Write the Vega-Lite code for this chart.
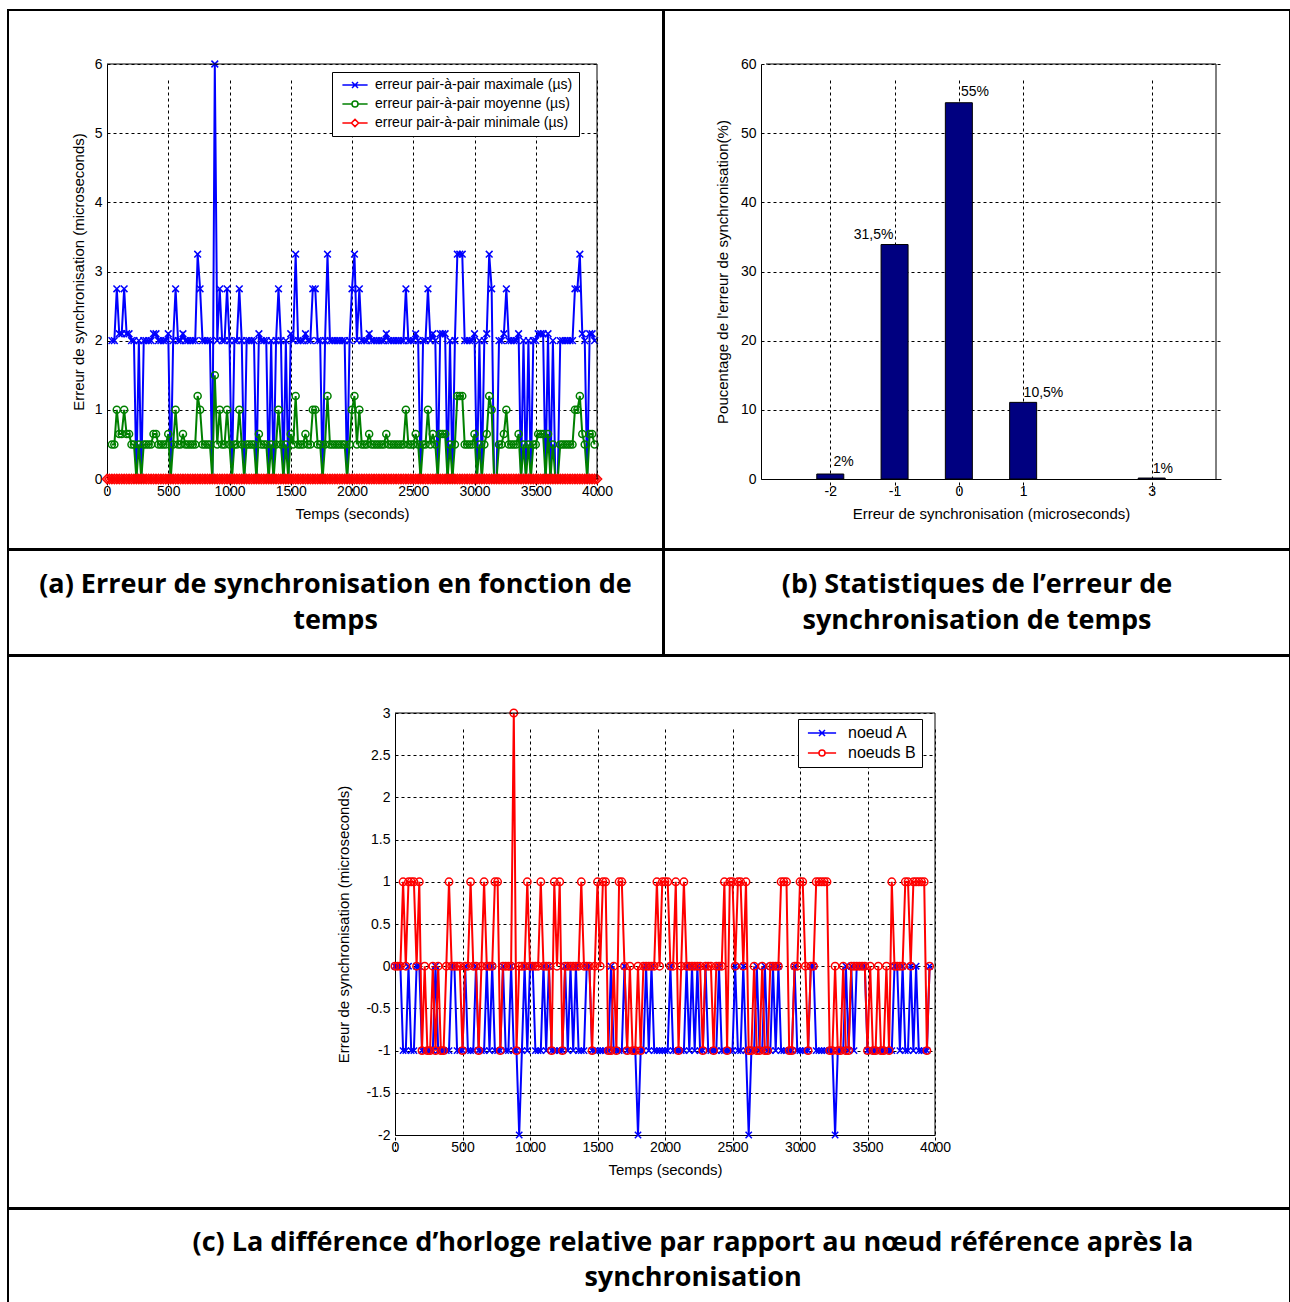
{
"$schema":"https://vega.github.io/schema/vega-lite/v6.json",
"background":"white",
"padding":{"left":7,"top":9,"right":0,"bottom":0},
"spacing":-2,
"resolve":{"scale":{"color":"independent","shape":"independent"},"legend":{"color":"independent","shape":"independent"}},
"config":{
 "view":{"stroke":"black","strokeWidth":2},
 "axis":{"labelFont":"Liberation Sans","titleFont":"Liberation Sans","labelFontSize":14,"titleFontSize":15,"titleFontWeight":"normal","labelColor":"black","titleColor":"black","domainColor":"black","domainWidth":1,"gridColor":"black","gridDash":[3,3],"gridOpacity":1,"gridWidth":1,"ticks":false,"labelPadding":5,"labelFlush":false,"labelOverlap":false,"titlePadding":8},
 "legend":{"labelFont":"Liberation Sans","labelFontSize":14,"labelColor":"black","strokeColor":"black","fillColor":"white","padding":6,"symbolSize":36,"symbolStrokeWidth":1.5,"symbolOffset":10,"labelOffset":13,"rowPadding":5,"labelLimit":400,"cornerRadius":0},
 "text":{"font":"Liberation Sans"}
},
"datasets":{
 "na":[{"k":"mx","serie":"erreur pair-à-pair maximale (µs)"},{"k":"mo","serie":"erreur pair-à-pair moyenne (µs)"},{"k":"mi","serie":"erreur pair-à-pair minimale (µs)"}],
 "nc":[{"k":"a","serie":"noeud A"},{"k":"b","serie":"noeuds B"}],
 "hist":[{"e":-2,"p":0.72,"lab":"2%","lx":-1.95,"ly":2.46},{"e":-1,"p":33.9,"lab":"31,5%","lx":-1.635,"ly":35.3},{"e":0,"p":54.4,"lab":"55%","lx":0.034,"ly":55.95},{"e":1,"p":11.08,"lab":"10,5%","lx":1.007,"ly":12.4},{"e":3,"p":0.14,"lab":"1%","lx":3.016,"ly":1.45}],
 "ta":[
{"t":0,"mi":0},{"t":20,"mi":0},
{"t":40,"mx":2,"mo":0.5,"mi":0},{"t":60,"mx":2,"mo":0.5,"mi":0},{"t":80,"mx":2.75,"mo":1,"mi":0},{"t":100,"mx":2.1,"mo":0.65,"mi":0},
{"t":120,"mx":2.1,"mo":0.65,"mi":0},{"t":140,"mx":2.75,"mo":1,"mi":0},{"t":160,"mx":2.1,"mo":0.65,"mi":0},{"t":180,"mx":2.1,"mo":0.65,"mi":0},
{"t":200,"mx":2,"mo":0.5,"mi":0},{"t":220,"mx":2,"mo":0.5,"mi":0},{"t":240,"mx":0,"mo":0,"mi":0},{"t":260,"mx":2,"mo":0.5,"mi":0},
{"t":280,"mx":0,"mo":0,"mi":0},{"t":300,"mx":2,"mo":0.5,"mi":0},{"t":320,"mx":2,"mo":0.5,"mi":0},{"t":340,"mx":2,"mo":0.5,"mi":0},
{"t":360,"mx":2,"mo":0.5,"mi":0},{"t":380,"mx":2.1,"mo":0.65,"mi":0},{"t":400,"mx":2.1,"mo":0.65,"mi":0},{"t":420,"mx":2,"mo":0.5,"mi":0},
{"t":440,"mx":2,"mo":0.5,"mi":0},{"t":460,"mx":2,"mo":0.5,"mi":0},{"t":480,"mx":2,"mo":0.5,"mi":0},{"t":500,"mx":2.1,"mo":0.65,"mi":0},
{"t":520,"mx":0,"mo":0,"mi":0},{"t":540,"mx":2,"mo":0.5,"mi":0},{"t":560,"mx":2.75,"mo":1,"mi":0},{"t":580,"mx":2,"mo":0.5,"mi":0},
{"t":600,"mx":2,"mo":0.5,"mi":0},{"t":620,"mx":2.1,"mo":0.65,"mi":0},{"t":640,"mx":2,"mo":0.5,"mi":0},{"t":660,"mx":2,"mo":0.5,"mi":0},
{"t":680,"mx":2,"mo":0.5,"mi":0},{"t":700,"mx":2,"mo":0.5,"mi":0},{"t":720,"mx":2,"mo":0.5,"mi":0},{"t":740,"mx":3.25,"mo":1.2,"mi":0},
{"t":760,"mx":2.75,"mo":1,"mi":0},{"t":780,"mx":2,"mo":0.5,"mi":0},{"t":800,"mx":2,"mo":0.5,"mi":0},{"t":820,"mx":2,"mo":0.5,"mi":0},
{"t":840,"mx":2,"mo":0.5,"mi":0},{"t":860,"mx":0,"mo":0,"mi":0},{"t":880,"mx":6,"mo":1.5,"mi":0},{"t":900,"mx":2,"mo":0.5,"mi":0},
{"t":920,"mx":2.75,"mo":1,"mi":0},{"t":940,"mx":2,"mo":0.5,"mi":0},{"t":960,"mx":2,"mo":0.5,"mi":0},{"t":980,"mx":2.75,"mo":1,"mi":0},
{"t":1000,"mx":2,"mo":0.5,"mi":0},{"t":1020,"mx":0,"mo":0,"mi":0},{"t":1040,"mx":2,"mo":0.5,"mi":0},{"t":1060,"mx":2,"mo":0.5,"mi":0},
{"t":1080,"mx":2.75,"mo":1,"mi":0},{"t":1100,"mx":2,"mo":0.5,"mi":0},{"t":1120,"mx":0,"mo":0,"mi":0},{"t":1140,"mx":2,"mo":0.5,"mi":0},
{"t":1160,"mx":2,"mo":0.5,"mi":0},{"t":1180,"mx":2,"mo":0.5,"mi":0},{"t":1200,"mx":2,"mo":0.5,"mi":0},{"t":1220,"mx":0,"mo":0,"mi":0},
{"t":1240,"mx":2.1,"mo":0.65,"mi":0},{"t":1260,"mx":2,"mo":0.5,"mi":0},{"t":1280,"mx":2,"mo":0.5,"mi":0},{"t":1300,"mx":2,"mo":0.5,"mi":0},
{"t":1320,"mx":0,"mo":0,"mi":0},{"t":1340,"mx":2,"mo":0.5,"mi":0},{"t":1360,"mx":0,"mo":0,"mi":0},{"t":1380,"mx":2,"mo":0.5,"mi":0},
{"t":1400,"mx":2.75,"mo":1,"mi":0},{"t":1420,"mx":2,"mo":0.5,"mi":0},{"t":1440,"mx":0,"mo":0,"mi":0},{"t":1460,"mx":2,"mo":0.5,"mi":0},
{"t":1480,"mx":0,"mo":0,"mi":0},{"t":1500,"mx":2.1,"mo":0.65,"mi":0},{"t":1520,"mx":2,"mo":0.5,"mi":0},{"t":1540,"mx":3.25,"mo":1.2,"mi":0},
{"t":1560,"mx":2,"mo":0.5,"mi":0},{"t":1580,"mx":2,"mo":0.5,"mi":0},{"t":1600,"mx":2,"mo":0.5,"mi":0},{"t":1620,"mx":2.1,"mo":0.65,"mi":0},
{"t":1640,"mx":2,"mo":0.5,"mi":0},{"t":1660,"mx":2,"mo":0.5,"mi":0},{"t":1680,"mx":2.75,"mo":1,"mi":0},{"t":1700,"mx":2.75,"mo":1,"mi":0},
{"t":1720,"mx":2,"mo":0.5,"mi":0},{"t":1740,"mx":2,"mo":0.5,"mi":0},{"t":1760,"mx":0,"mo":0,"mi":0},{"t":1780,"mx":2,"mo":0.5,"mi":0},
{"t":1800,"mx":3.25,"mo":1.2,"mi":0},{"t":1820,"mx":2,"mo":0.5,"mi":0},{"t":1840,"mx":2,"mo":0.5,"mi":0},{"t":1860,"mx":2,"mo":0.5,"mi":0},
{"t":1880,"mx":2,"mo":0.5,"mi":0},{"t":1900,"mx":2,"mo":0.5,"mi":0},{"t":1920,"mx":2,"mo":0.5,"mi":0},{"t":1940,"mx":2,"mo":0.5,"mi":0},
{"t":1960,"mx":0,"mo":0,"mi":0},{"t":1980,"mx":2,"mo":0.5,"mi":0},{"t":2000,"mx":2.75,"mo":1,"mi":0},{"t":2020,"mx":3.25,"mo":1.2,"mi":0},
{"t":2040,"mx":2,"mo":0.5,"mi":0},{"t":2060,"mx":2.75,"mo":1,"mi":0},{"t":2080,"mx":2,"mo":0.5,"mi":0},{"t":2100,"mx":2,"mo":0.5,"mi":0},
{"t":2120,"mx":2,"mo":0.5,"mi":0},{"t":2140,"mx":2.1,"mo":0.65,"mi":0},{"t":2160,"mx":2,"mo":0.5,"mi":0},{"t":2180,"mx":2,"mo":0.5,"mi":0},
{"t":2200,"mx":2,"mo":0.5,"mi":0},{"t":2220,"mx":2,"mo":0.5,"mi":0},{"t":2240,"mx":2,"mo":0.5,"mi":0},{"t":2260,"mx":2,"mo":0.5,"mi":0},
{"t":2280,"mx":2.1,"mo":0.65,"mi":0},{"t":2300,"mx":2,"mo":0.5,"mi":0},{"t":2320,"mx":2,"mo":0.5,"mi":0},{"t":2340,"mx":2,"mo":0.5,"mi":0},
{"t":2360,"mx":2,"mo":0.5,"mi":0},{"t":2380,"mx":2,"mo":0.5,"mi":0},{"t":2400,"mx":2,"mo":0.5,"mi":0},{"t":2420,"mx":2,"mo":0.5,"mi":0},
{"t":2440,"mx":2.75,"mo":1,"mi":0},{"t":2460,"mx":2,"mo":0.5,"mi":0},{"t":2480,"mx":2,"mo":0.5,"mi":0},{"t":2500,"mx":2,"mo":0.5,"mi":0},
{"t":2520,"mx":2.1,"mo":0.65,"mi":0},{"t":2540,"mx":2,"mo":0.5,"mi":0},{"t":2560,"mx":0,"mo":0,"mi":0},{"t":2580,"mx":2,"mo":0.5,"mi":0},
{"t":2600,"mx":2,"mo":0.5,"mi":0},{"t":2620,"mx":2.75,"mo":1,"mi":0},{"t":2640,"mx":2,"mo":0.5,"mi":0},{"t":2660,"mx":2.1,"mo":0.65,"mi":0},
{"t":2680,"mx":2,"mo":0.5,"mi":0},{"t":2700,"mx":0,"mo":0,"mi":0},{"t":2720,"mx":2.1,"mo":0.65,"mi":0},{"t":2740,"mx":2.1,"mo":0.65,"mi":0},
{"t":2760,"mx":2.1,"mo":0.65,"mi":0},{"t":2780,"mx":0,"mo":0,"mi":0},{"t":2800,"mx":2,"mo":0.5,"mi":0},{"t":2820,"mx":0,"mo":0,"mi":0},
{"t":2840,"mx":2,"mo":0.5,"mi":0},{"t":2860,"mx":3.25,"mo":1.2,"mi":0},{"t":2880,"mx":3.25,"mo":1.2,"mi":0},{"t":2900,"mx":3.25,"mo":1.2,"mi":0},
{"t":2920,"mx":2,"mo":0.5,"mi":0},{"t":2940,"mx":2,"mo":0.5,"mi":0},{"t":2960,"mx":2,"mo":0.5,"mi":0},{"t":2980,"mx":2,"mo":0.5,"mi":0},
{"t":3000,"mx":2.1,"mo":0.65,"mi":0},{"t":3020,"mx":0,"mo":0,"mi":0},{"t":3040,"mx":2,"mo":0.5,"mi":0},{"t":3060,"mx":0,"mo":0,"mi":0},
{"t":3080,"mx":2,"mo":0.5,"mi":0},{"t":3100,"mx":2.1,"mo":0.65,"mi":0},{"t":3120,"mx":3.25,"mo":1.2,"mi":0},{"t":3140,"mx":2.75,"mo":1,"mi":0},
{"t":3160,"mx":0,"mo":0,"mi":0},{"t":3180,"mx":0,"mo":0,"mi":0},{"t":3200,"mx":2,"mo":0.5,"mi":0},{"t":3220,"mx":2,"mo":0.5,"mi":0},
{"t":3240,"mx":2.1,"mo":0.65,"mi":0},{"t":3260,"mx":2.75,"mo":1,"mi":0},{"t":3280,"mx":2,"mo":0.5,"mi":0},{"t":3300,"mx":2,"mo":0.5,"mi":0},
{"t":3320,"mx":2,"mo":0.5,"mi":0},{"t":3340,"mx":2,"mo":0.5,"mi":0},{"t":3360,"mx":2.1,"mo":0.65,"mi":0},{"t":3380,"mx":0,"mo":0,"mi":0},
{"t":3400,"mx":2,"mo":0.5,"mi":0},{"t":3420,"mx":0,"mo":0,"mi":0},{"t":3440,"mx":2,"mo":0.5,"mi":0},{"t":3460,"mx":0,"mo":0,"mi":0},
{"t":3480,"mx":2,"mo":0.5,"mi":0},{"t":3500,"mx":2,"mo":0.5,"mi":0},{"t":3520,"mx":2.1,"mo":0.65,"mi":0},{"t":3540,"mx":2.1,"mo":0.65,"mi":0},
{"t":3560,"mx":2.1,"mo":0.65,"mi":0},{"t":3580,"mx":0,"mo":0,"mi":0},{"t":3600,"mx":2.1,"mo":0.65,"mi":0},{"t":3620,"mx":0,"mo":0,"mi":0},
{"t":3640,"mx":2,"mo":0.5,"mi":0},{"t":3660,"mx":0,"mo":0,"mi":0},{"t":3680,"mx":0,"mo":0,"mi":0},{"t":3700,"mx":2,"mo":0.5,"mi":0},
{"t":3720,"mx":2,"mo":0.5,"mi":0},{"t":3740,"mx":2,"mo":0.5,"mi":0},{"t":3760,"mx":2,"mo":0.5,"mi":0},{"t":3780,"mx":2,"mo":0.5,"mi":0},
{"t":3800,"mx":2,"mo":0.5,"mi":0},{"t":3820,"mx":2.75,"mo":1,"mi":0},{"t":3840,"mx":2.75,"mo":1,"mi":0},{"t":3860,"mx":3.25,"mo":1.2,"mi":0},
{"t":3880,"mx":2.1,"mo":0.65,"mi":0},{"t":3900,"mx":2,"mo":0.5,"mi":0},{"t":3920,"mx":0,"mo":0,"mi":0},{"t":3940,"mx":2.1,"mo":0.65,"mi":0},
{"t":3960,"mx":2.1,"mo":0.65,"mi":0},{"t":3980,"mx":2,"mo":0.5,"mi":0},{"t":4000,"mi":0}
 ],
 "tc":[
{"t":0,"a":0,"b":0},{"t":20,"a":0,"b":0},{"t":40,"a":0,"b":0},{"t":60,"a":-1,"b":1},{"t":80,"a":-1,"b":0},{"t":100,"a":0,"b":1},
{"t":120,"a":-1,"b":1},{"t":140,"a":-1,"b":1},{"t":160,"a":0,"b":0},{"t":180,"a":0,"b":1},{"t":200,"a":-1,"b":-1},{"t":220,"a":-1,"b":0},
{"t":240,"a":-1,"b":-1},{"t":260,"a":-1,"b":-1},{"t":280,"a":-1,"b":0},{"t":300,"a":0,"b":-1},{"t":320,"a":-1,"b":0},{"t":340,"a":-1,"b":-1},
{"t":360,"a":-1,"b":-1},{"t":380,"a":-1,"b":0},{"t":400,"a":-1,"b":1},{"t":420,"a":0,"b":0},{"t":440,"a":0,"b":0},{"t":460,"a":-1,"b":0},
{"t":480,"a":-1,"b":0},{"t":500,"a":-1,"b":-1},{"t":520,"a":0,"b":0},{"t":540,"a":-1,"b":0},{"t":560,"a":-1,"b":1},{"t":580,"a":-1,"b":0},
{"t":600,"a":0,"b":0},{"t":620,"a":-1,"b":-1},{"t":640,"a":-1,"b":0},{"t":660,"a":-1,"b":1},{"t":680,"a":0,"b":0},{"t":700,"a":-1,"b":0},
{"t":720,"a":0,"b":0},{"t":740,"a":-1,"b":1},{"t":760,"a":-1,"b":1},{"t":780,"a":-1,"b":-1},{"t":800,"a":0,"b":0},{"t":820,"a":-1,"b":0},
{"t":840,"a":-1,"b":0},{"t":860,"a":0,"b":0},{"t":880,"a":-1,"b":3},{"t":900,"a":-1,"b":-1},{"t":920,"a":-2,"b":0},{"t":940,"a":-1,"b":0},
{"t":960,"a":0,"b":0},{"t":980,"a":-1,"b":1},{"t":1000,"a":0,"b":0},{"t":1020,"a":0,"b":0},{"t":1040,"a":-1,"b":0},{"t":1060,"a":-1,"b":0},
{"t":1080,"a":-1,"b":1},{"t":1100,"a":0,"b":0},{"t":1120,"a":-1,"b":0},{"t":1140,"a":0,"b":0},{"t":1160,"a":-1,"b":-1},{"t":1180,"a":-1,"b":1},
{"t":1200,"a":-1,"b":0},{"t":1220,"a":-1,"b":1},{"t":1240,"a":-1,"b":-1},{"t":1260,"a":0,"b":0},{"t":1280,"a":-1,"b":0},{"t":1300,"a":0,"b":0},
{"t":1320,"a":-1,"b":0},{"t":1340,"a":0,"b":0},{"t":1360,"a":-1,"b":0},{"t":1380,"a":-1,"b":1},{"t":1400,"a":-1,"b":0},{"t":1420,"a":0,"b":0},
{"t":1440,"a":0,"b":0},{"t":1460,"a":-1,"b":-1},{"t":1480,"a":-1,"b":0},{"t":1500,"a":-1,"b":1},{"t":1520,"a":-1,"b":0},{"t":1540,"a":-1,"b":1},
{"t":1560,"a":-1,"b":1},{"t":1580,"a":-1,"b":-1},{"t":1600,"a":0,"b":-1},{"t":1620,"a":-1,"b":0},{"t":1640,"a":-1,"b":-1},{"t":1660,"a":-1,"b":1},
{"t":1680,"a":-1,"b":1},{"t":1700,"a":0,"b":0},{"t":1720,"a":-1,"b":-1},{"t":1740,"a":-1,"b":0},{"t":1760,"a":-1,"b":-1},{"t":1780,"a":-1,"b":-1},
{"t":1800,"a":-2,"b":0},{"t":1820,"a":-1,"b":-1},{"t":1840,"a":-1,"b":0},{"t":1860,"a":0,"b":0},{"t":1880,"a":-1,"b":0},{"t":1900,"a":0,"b":0},
{"t":1920,"a":-1,"b":0},{"t":1940,"a":-1,"b":1},{"t":1960,"a":-1,"b":0},{"t":1980,"a":-1,"b":1},{"t":2000,"a":-1,"b":1},{"t":2020,"a":-1,"b":1},
{"t":2040,"a":0,"b":0},{"t":2060,"a":-1,"b":0},{"t":2080,"a":-1,"b":1},{"t":2100,"a":-1,"b":-1},{"t":2120,"a":-1,"b":0},{"t":2140,"a":-1,"b":1},
{"t":2160,"a":0,"b":0},{"t":2180,"a":-1,"b":0},{"t":2200,"a":0,"b":0},{"t":2220,"a":-1,"b":0},{"t":2240,"a":0,"b":0},{"t":2260,"a":-1,"b":0},
{"t":2280,"a":-1,"b":-1},{"t":2300,"a":0,"b":0},{"t":2320,"a":-1,"b":0},{"t":2340,"a":-1,"b":0},{"t":2360,"a":-1,"b":-1},{"t":2380,"a":-1,"b":0},
{"t":2400,"a":0,"b":0},{"t":2420,"a":-1,"b":0},{"t":2440,"a":-1,"b":1},{"t":2460,"a":-1,"b":-1},{"t":2480,"a":-1,"b":1},{"t":2500,"a":-1,"b":1},
{"t":2520,"a":0,"b":0},{"t":2540,"a":-1,"b":1},{"t":2560,"a":-1,"b":1},{"t":2580,"a":0,"b":0},{"t":2600,"a":-1,"b":1},{"t":2620,"a":-2,"b":-1},
{"t":2640,"a":-1,"b":-1},{"t":2660,"a":-1,"b":0},{"t":2680,"a":0,"b":-1},{"t":2700,"a":-1,"b":-1},{"t":2720,"a":-1,"b":0},{"t":2740,"a":0,"b":-1},
{"t":2760,"a":-1,"b":-1},{"t":2780,"a":-1,"b":0},{"t":2800,"a":0,"b":0},{"t":2820,"a":-1,"b":0},{"t":2840,"a":0,"b":0},{"t":2860,"a":-1,"b":1},
{"t":2880,"a":-1,"b":1},{"t":2900,"a":-1,"b":1},{"t":2920,"a":-1,"b":-1},{"t":2940,"a":-1,"b":-1},{"t":2960,"a":0,"b":0},{"t":2980,"a":-1,"b":0},
{"t":3000,"a":-1,"b":1},{"t":3020,"a":-1,"b":1},{"t":3040,"a":-1,"b":0},{"t":3060,"a":-1,"b":-1},{"t":3080,"a":0,"b":0},{"t":3100,"a":0,"b":0},
{"t":3120,"a":-1,"b":1},{"t":3140,"a":-1,"b":1},{"t":3160,"a":-1,"b":1},{"t":3180,"a":-1,"b":1},{"t":3200,"a":-1,"b":1},{"t":3220,"a":-1,"b":-1},
{"t":3240,"a":-1,"b":-1},{"t":3260,"a":-2,"b":0},{"t":3280,"a":-1,"b":-1},{"t":3300,"a":-1,"b":-1},{"t":3320,"a":-1,"b":0},{"t":3340,"a":0,"b":-1},
{"t":3360,"a":-1,"b":-1},{"t":3380,"a":0,"b":0},{"t":3400,"a":-1,"b":0},{"t":3420,"a":0,"b":0},{"t":3440,"a":0,"b":0},{"t":3460,"a":0,"b":0},
{"t":3480,"a":0,"b":0},{"t":3500,"a":-1,"b":-1},{"t":3520,"a":-1,"b":0},{"t":3540,"a":-1,"b":-1},{"t":3560,"a":-1,"b":-1},{"t":3580,"a":-1,"b":0},
{"t":3600,"a":-1,"b":-1},{"t":3620,"a":-1,"b":-1},{"t":3640,"a":-1,"b":0},{"t":3660,"a":-1,"b":-1},{"t":3680,"a":-1,"b":1},{"t":3700,"a":0,"b":0},
{"t":3720,"a":0,"b":0},{"t":3740,"a":-1,"b":0},{"t":3760,"a":0,"b":0},{"t":3780,"a":-1,"b":1},{"t":3800,"a":-1,"b":1},{"t":3820,"a":0,"b":0},
{"t":3840,"a":-1,"b":1},{"t":3860,"a":0,"b":1},{"t":3880,"a":-1,"b":1},{"t":3900,"a":-1,"b":1},{"t":3920,"a":-1,"b":1},{"t":3940,"a":-1,"b":-1},
{"t":3960,"a":0,"b":0}
 ]
},
"vconcat":[
 {"spacing":-2,"hconcat":[
  {"width":655,"height":539,
   "layer":[
    {"data":{"name":"ta"},
     "transform":[{"fold":["mx","mo","mi"],"as":["k","v"]},{"lookup":"k","from":{"data":{"name":"na"},"key":"k","fields":["serie"]}}],
     "layer":[
      {"mark":{"type":"line","strokeWidth":2},
       "encoding":{
        "x":{"field":"t","type":"quantitative","scale":{"domain":[0,4000],"range":[99,589],"nice":false,"zero":false},"axis":{"title":"Temps (seconds)","values":[0,500,1000,1500,2000,2500,3000,3500,4000],"format":"d","offset":-70,"grid":true}},
        "y":{"field":"v","type":"quantitative","scale":{"domain":[0,6],"range":[469,54],"nice":false,"zero":false},"axis":{"title":"Erreur de synchronisation (microseconds)","values":[0,1,2,3,4,5,6],"format":"d","offset":-99,"grid":true}},
        "color":{"field":"serie","type":"nominal","scale":{"domain":["erreur pair-à-pair maximale (µs)","erreur pair-à-pair moyenne (µs)","erreur pair-à-pair minimale (µs)"],"range":["#0000ff","#008000","#ff0000"]},
          "legend":{"title":null,"orient":"none","legendX":324,"legendY":62}}
       }},
      {"transform":[{"filter":"datum.t < 0"}],
       "mark":{"type":"point","filled":false,"opacity":1},
       "encoding":{
        "x":{"field":"t","type":"quantitative"},
        "y":{"field":"v","type":"quantitative"},
        "color":{"field":"serie","type":"nominal","legend":{"title":null,"orient":"none","legendX":324,"legendY":62}},
        "shape":{"field":"serie","type":"nominal","scale":{"domain":["erreur pair-à-pair maximale (µs)","erreur pair-à-pair moyenne (µs)","erreur pair-à-pair minimale (µs)"],"range":["M-4.2,0H4.2M-1,-1L1,1M-1,1L1,-1","M-4.2,0H-1M1,0H4.2M1,0A1,1,0,1,1,-1,0A1,1,0,1,1,1,0","M-4.2,0H-1.2M1.2,0H4.2M0,-1.2L1.2,0L0,1.2L-1.2,0Z"]},"legend":{"title":null,"orient":"none","legendX":324,"legendY":62}}
       }},
      {"transform":[{"filter":"datum.k === 'mx'"}],
       "mark":{"type":"point","shape":"M-1,-1L1,1M-1,1L1,-1","filled":false,"size":45,"strokeWidth":1.5,"opacity":1},
       "encoding":{"x":{"field":"t","type":"quantitative"},"y":{"field":"v","type":"quantitative"},"color":{"field":"serie","type":"nominal"}}},
      {"transform":[{"filter":"datum.k === 'mo'"}],
       "mark":{"type":"point","shape":"circle","filled":false,"size":50,"strokeWidth":1.5,"opacity":1},
       "encoding":{"x":{"field":"t","type":"quantitative"},"y":{"field":"v","type":"quantitative"},"color":{"field":"serie","type":"nominal"}}},
      {"transform":[{"filter":"datum.k === 'mi'"}],
       "mark":{"type":"point","shape":"diamond","filled":false,"size":85,"strokeWidth":1.5,"opacity":1},
       "encoding":{"x":{"field":"t","type":"quantitative"},"y":{"field":"v","type":"quantitative"},"color":{"field":"serie","type":"nominal"}}}
     ]},
    {"data":{"values":[{}]},"mark":{"type":"rule","color":"black","strokeWidth":1},
     "encoding":{"x":{"datum":0,"type":"quantitative"},"x2":{"datum":4000},"y":{"datum":6,"type":"quantitative"}}},
    {"data":{"values":[{}]},"mark":{"type":"rule","color":"black","strokeWidth":1},
     "encoding":{"x":{"datum":4000,"type":"quantitative"},"y":{"datum":0,"type":"quantitative"},"y2":{"datum":6}}}
   ]},
  {"width":626,"height":539,
   "layer":[
    {"data":{"name":"hist"},"mark":{"type":"bar","color":"#000080","stroke":"black","strokeWidth":1,"width":27},
     "encoding":{
      "x":{"field":"e","type":"quantitative","scale":{"domain":[-3,4],"range":[97,557],"nice":false,"zero":false},"axis":{"title":"Erreur de synchronisation (microseconds)","values":[-2,-1,0,1,3],"format":"d","labelExpr":"replace(datum.label, '−', '-')","offset":-70,"grid":true}},
      "y":{"field":"p","type":"quantitative","scale":{"domain":[0,60],"range":[469,54],"nice":false},"axis":{"title":"Poucentage de l'erreur de synchronisation(%)","values":[0,10,20,30,40,50,60],"format":"d","offset":-97,"grid":true,"titlePadding":10}}
     }},
    {"data":{"name":"hist"},"mark":{"type":"text","align":"left","baseline":"middle","fontSize":14,"color":"black"},
     "encoding":{"x":{"field":"lx","type":"quantitative"},"y":{"field":"ly","type":"quantitative"},"text":{"field":"lab"}}},
    {"data":{"values":[{}]},"mark":{"type":"rule","color":"black","strokeWidth":1},
     "encoding":{"x":{"datum":-3,"type":"quantitative"},"x2":{"datum":4},"y":{"datum":60,"type":"quantitative"}}},
    {"data":{"values":[{}]},"mark":{"type":"rule","color":"black","strokeWidth":1},
     "encoding":{"x":{"datum":4,"type":"quantitative"},"y":{"datum":0,"type":"quantitative"},"y2":{"datum":60}}}
   ]}
 ]},
 {"spacing":-2,"hconcat":[
  {"width":655,"height":105,"data":{"values":[{"cap":"(a) Erreur de synchronisation en fonction de\ntemps"}]},
   "mark":{"type":"text","font":"Open Sans","fontWeight":"bold","fontSize":27,"lineBreak":"\n","lineHeight":36,"color":"black","dy":-18},
   "encoding":{"text":{"field":"cap"},
     "x":{"datum":0.5,"type":"quantitative","scale":{"domain":[0,1]},"axis":null},
     "y":{"datum":0.5,"type":"quantitative","scale":{"domain":[0,1]},"axis":null}}},
  {"width":626,"height":105,"data":{"values":[{"cap":"(b) Statistiques de l’erreur de\nsynchronisation de temps"}]},
   "mark":{"type":"text","font":"Open Sans","fontWeight":"bold","fontSize":27,"lineBreak":"\n","lineHeight":36,"color":"black","dy":-18},
   "encoding":{"text":{"field":"cap"},
     "x":{"datum":0.5,"type":"quantitative","scale":{"domain":[0,1]},"axis":null},
     "y":{"datum":0.5,"type":"quantitative","scale":{"domain":[0,1]},"axis":null}}}
 ]},
 {"width":1282,"height":552,
  "layer":[
   {"data":{"name":"tc"},
    "transform":[{"fold":["a","b"],"as":["k","v"]},{"lookup":"k","from":{"data":{"name":"nc"},"key":"k","fields":["serie"]}}],
    "layer":[
     {"mark":{"type":"line","strokeWidth":2},
      "encoding":{
       "x":{"field":"t","type":"quantitative","scale":{"domain":[0,4000],"range":[387,927],"nice":false,"zero":false},"axis":{"title":"Temps (seconds)","values":[0,500,1000,1500,2000,2500,3000,3500,4000],"format":"d","offset":-73,"grid":true}},
       "y":{"field":"v","type":"quantitative","scale":{"domain":[-2,3],"range":[479,57],"nice":false,"zero":false},"axis":{"title":"Erreur de synchronisation (microseconds)","values":[-2,-1.5,-1,-0.5,0,0.5,1,1.5,2,2.5,3],"format":"~g","labelExpr":"replace(datum.label, '−', '-')","offset":-387,"grid":true,"titlePadding":14}},
       "color":{"field":"serie","type":"nominal","scale":{"domain":["noeud A","noeuds B"],"range":["#0000ff","#ff0000"]},
         "legend":{"title":null,"orient":"none","legendX":790,"legendY":63,"labelFontSize":16,"labelOffset":18,"rowPadding":4}}
      }},
     {"transform":[{"filter":"datum.t < 0"}],
      "mark":{"type":"point","filled":false,"opacity":1},
      "encoding":{
       "x":{"field":"t","type":"quantitative"},
       "y":{"field":"v","type":"quantitative"},
       "color":{"field":"serie","type":"nominal","legend":{"title":null,"orient":"none","legendX":790,"legendY":63,"labelFontSize":16,"labelOffset":18,"rowPadding":4}},
       "shape":{"field":"serie","type":"nominal","scale":{"domain":["noeud A","noeuds B"],"range":["M-4.7,0H4.7M-1,-1L1,1M-1,1L1,-1","M-4.7,0H-1M1,0H4.7M1,0A1,1,0,1,1,-1,0A1,1,0,1,1,1,0"]},"legend":{"title":null,"orient":"none","legendX":790,"legendY":63,"labelFontSize":16,"labelOffset":18,"rowPadding":4}}
      }},
     {"transform":[{"filter":"datum.k === 'a'"}],
      "mark":{"type":"point","shape":"M-1,-1L1,1M-1,1L1,-1","filled":false,"size":40,"strokeWidth":1.5,"opacity":1},
      "encoding":{"x":{"field":"t","type":"quantitative"},"y":{"field":"v","type":"quantitative"},"color":{"field":"serie","type":"nominal"}}},
     {"transform":[{"filter":"datum.k === 'b'"}],
      "mark":{"type":"point","shape":"circle","filled":false,"size":55,"strokeWidth":1.5,"opacity":1},
      "encoding":{"x":{"field":"t","type":"quantitative"},"y":{"field":"v","type":"quantitative"},"color":{"field":"serie","type":"nominal"}}}
    ]},
   {"data":{"values":[{}]},"mark":{"type":"rule","color":"black","strokeWidth":1},
    "encoding":{"x":{"datum":0,"type":"quantitative"},"x2":{"datum":4000},"y":{"datum":3,"type":"quantitative"}}},
   {"data":{"values":[{}]},"mark":{"type":"rule","color":"black","strokeWidth":1},
    "encoding":{"x":{"datum":4000,"type":"quantitative"},"y":{"datum":-2,"type":"quantitative"},"y2":{"datum":3}}}
  ]},
 {"width":1282,"height":95,"data":{"values":[{"cap":"(c) La différence d’horloge relative par rapport au nœud référence après la\nsynchronisation"}]},
  "mark":{"type":"text","font":"Open Sans","fontWeight":"bold","fontSize":27,"lineBreak":"\n","lineHeight":35,"color":"black","dx":44,"dy":-14},
  "encoding":{"text":{"field":"cap"},
     "x":{"datum":0.5,"type":"quantitative","scale":{"domain":[0,1]},"axis":null},
     "y":{"datum":0.5,"type":"quantitative","scale":{"domain":[0,1]},"axis":null}}}
]
}
